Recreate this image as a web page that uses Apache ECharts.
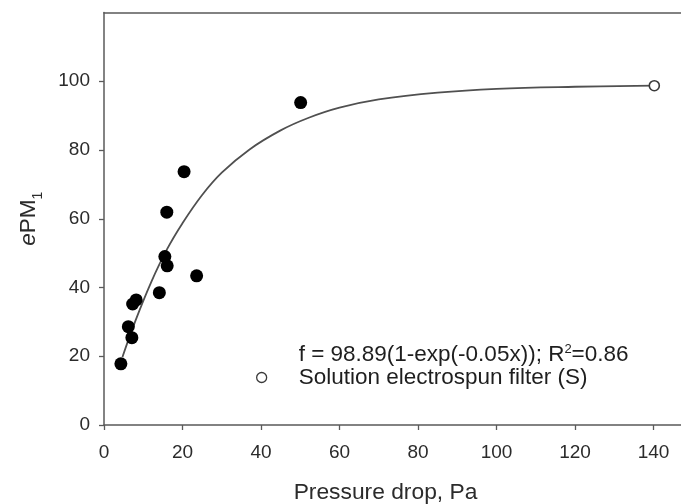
<!DOCTYPE html>
<html>
<head>
<meta charset="utf-8">
<script src="https://cdn.jsdelivr.net/npm/echarts@6/dist/echarts.min.js"></script>
<style>
html,body{margin:0;padding:0;background:#fff;}
#chart{width:681px;height:504px;}
</style>
</head>
<body>
<div id="chart"></div>
<script>
// ---- data ----
const xTicks = [0, 20, 40, 60, 80, 100, 120, 140];
const yTicks = [0, 20, 40, 60, 80, 100];

const dropPa = [4.3, 6.2, 7.1, 7.3, 8.2, 14.1, 15.5, 16.1, 16.0, 20.4, 23.6, 50.1];
const ePM1   = [17.8, 28.6, 25.4, 35.2, 36.4, 38.5, 49.0, 46.3, 61.9, 73.7, 43.4, 93.8];

const solutionX = [140.2];
const solutionY = [98.7];

const fitX = [4.7, 8, 12, 16, 20, 25, 30, 37, 45, 52, 60, 70, 85, 100, 120, 140];
const fitY = [19.8, 30.3, 41.5, 51.0, 58.7, 66.9, 73.4, 80.1, 85.7, 89.3, 92.3, 94.7, 96.7, 97.8, 98.4, 98.7];

const fitLabel = 'f = 98.89(1-exp(-0.05x)); R2=0.86';
const solutionLabel = 'Solution electrospun filter (S)';

const zip = (a, b) => a.map((v, i) => [v, b[i]]);

const FONT = '"Liberation Sans", Arial, sans-serif';
const AXIS_COLOR = '#5a5a5a';
const TEXT_COLOR = '#2b2b2b';

const chart = echarts.init(document.getElementById('chart'), null, {renderer: 'canvas'});

const option = {
  animation: false,
  backgroundColor: '#ffffff',
  textStyle: {fontFamily: FONT},
  grid: {left: 104, right: 0, top: 12.5, bottom: 79, containLabel: false, outerBoundsMode: 'none'},
  legend: {
    orient: 'vertical',
    left: 251,
    top: 338,
    itemWidth: 10,
    itemHeight: 10,
    itemGap: 0,
    selectedMode: false,
    data: [
      {name: fitLabel, icon: 'none'},
      {name: solutionLabel, icon: 'circle',
       itemStyle: {color: '#ffffff', borderColor: '#3a3a3a', borderWidth: 1.3}}
    ],
    formatter: function (name) {
      if (name === fitLabel) {
        return 'f = 98.89(1-exp(-0.05x)); R{sup|2}=0.86';
      }
      return name;
    },
    textStyle: {
      fontFamily: FONT,
      fontSize: 22.5,
      color: '#1e1e1e',
      padding: [0, 0, 0, 27],
      rich: {
        sup: {fontSize: 13, verticalAlign: 'top', color: '#1e1e1e', fontFamily: FONT}
      }
    }
  },
  xAxis: [{
    type: 'value',
    min: 0,
    max: 147,
    interval: 20,
    position: 'bottom',
    name: 'Pressure drop, Pa',
    nameLocation: 'middle',
    nameGap: 56,
    nameTextStyle: {fontFamily: FONT, fontSize: 22.8, color: TEXT_COLOR, padding: [0, 14, 0, 0]},
    splitLine: {show: false},
    axisLine: {show: true, lineStyle: {color: AXIS_COLOR, width: 1.5}},
    axisTick: {show: true, inside: false, length: 5, customValues: xTicks,
               lineStyle: {color: AXIS_COLOR, width: 1.3}},
    axisLabel: {show: true, margin: 18, customValues: xTicks,
                fontFamily: FONT, fontSize: 19, color: TEXT_COLOR}
  }, {
    type: 'value',
    min: 0,
    max: 147,
    position: 'top',
    splitLine: {show: false},
    axisLine: {show: true, lineStyle: {color: AXIS_COLOR, width: 1.5}},
    axisTick: {show: false},
    axisLabel: {show: false}
  }],
  yAxis: {
    type: 'value',
    min: 0,
    max: 120,
    interval: 20,
    name: '{i|e}PM{sub|1}',
    nameLocation: 'middle',
    nameGap: 64,
    nameTextStyle: {
      fontFamily: FONT, fontSize: 22.5, color: TEXT_COLOR,
      rich: {
        i: {fontStyle: 'italic', fontSize: 22.5, fontFamily: FONT, color: TEXT_COLOR},
        sub: {fontSize: 14, verticalAlign: 'bottom', fontFamily: FONT, color: TEXT_COLOR, padding: [0, 0, -5, 0]}
      }
    },
    splitLine: {show: false},
    axisLine: {show: true, lineStyle: {color: AXIS_COLOR, width: 1.5}},
    axisTick: {show: true, inside: false, length: 5, customValues: yTicks,
               lineStyle: {color: AXIS_COLOR, width: 1.3}},
    axisLabel: {show: true, margin: 14, customValues: yTicks,
                fontFamily: FONT, fontSize: 19, color: TEXT_COLOR}
  },
  series: [
    {
      name: fitLabel,
      type: 'line',
      data: zip(fitX, fitY),
      smooth: 0.4,
      showSymbol: false,
      symbol: 'none',
      lineStyle: {color: '#505050', width: 1.8},
      itemStyle: {color: '#505050'},
      z: 2
    },
    {
      name: 'Measured filters',
      type: 'scatter',
      data: zip(dropPa, ePM1),
      symbol: 'circle',
      symbolSize: 13,
      itemStyle: {color: '#000000', opacity: 1},
      z: 3
    },
    {
      name: solutionLabel,
      type: 'scatter',
      data: zip(solutionX, solutionY),
      symbol: 'circle',
      symbolSize: 10,
      itemStyle: {color: '#ffffff', borderColor: '#3a3a3a', borderWidth: 1.6, opacity: 1},
      z: 4
    }
  ]
};

chart.setOption(option);
</script>
</body>
</html>
